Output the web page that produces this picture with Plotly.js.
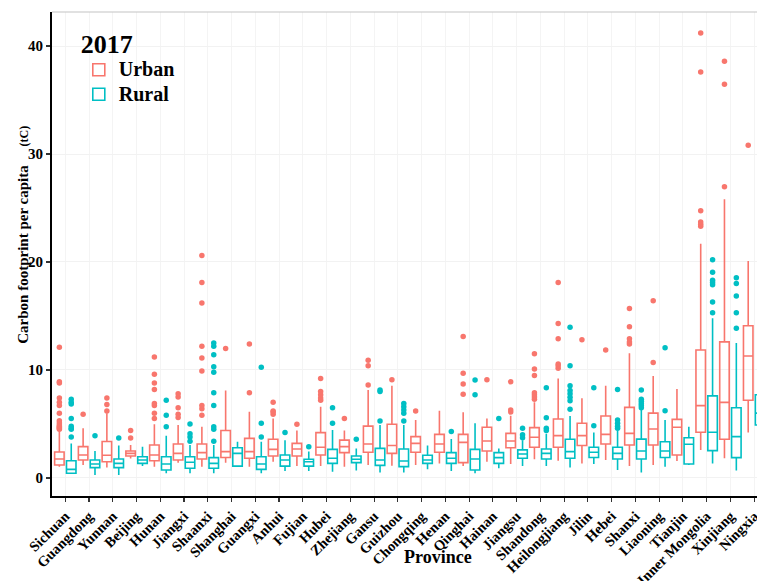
<!DOCTYPE html>
<html>
<head>
<meta charset="utf-8">
<script src="https://cdn.plot.ly/plotly-3.0.1.min.js"></script>
<style>
  html, body { margin: 0; padding: 0; background: #ffffff; }
  #chart { width: 757px; height: 581px; }
</style>
</head>
<body>
<div id="chart"></div>
<script>
// ---------- DATA ----------
var provinces = ['Sichuan','Guangdong','Yunnan','Beijing','Hunan','Jiangxi','Shaanxi','Shanghai','Guangxi','Anhui',
  'Fujian','Hubei','Zhejiang','Gansu','Guizhou','Chongqing','Henan','Qinghai','Hainan','Jiangsu',
  'Shandong','Heilongjiang','Jilin','Hebei','Shanxi','Liaoning','Tianjin','Inner Mongolia','Xinjiang','Ningxia'];

// Urban box statistics (tC per capita)
var urbanLower  = [1.05,1.2,0.96,1.8,1.05,1.4,1.05,1.42,1.05,1.5, 1.1,1.1,1.05,1.2,1.14,1.2,1.35,1.1,1.5,1.3, 1.73,1.6,1.35,1.67,1.1,1.2,1.57,2.6,1.82,4.2];
var urbanQ1     = [1.2,1.67,1.5,2.04,1.6,1.67,1.76,1.9,1.82,2.04, 2.04,2.13,2.35,2.38,2.28,2.38,2.38,1.42,2.5,2.8, 2.84,2.84,3.0,3.15,3.05,3.05,2.13,4.23,3.58,7.2];
var urbanMedian = [1.76,2.13,2.1,2.28,2.13,2.28,2.35,2.44,2.44,2.65, 2.68,2.84,2.9,3.15,3.0,3.2,3.15,3.3,3.43,3.43, 3.77,3.92,3.92,4.04,4.13,4.54,4.7,6.7,7.0,11.3];
var urbanQ3     = [2.4,2.9,3.37,2.5,3.05,3.15,3.15,4.4,3.67,3.58, 3.2,4.2,3.5,4.8,4.97,3.83,4.04,4.04,4.7,4.13, 4.66,5.46,5.06,5.74,6.54,6.0,5.43,11.85,12.6,14.1];
var urbanUpper  = [4.4,4.6,6.0,3.05,4.97,4.9,4.75,8.1,6.14,5.5, 4.4,6.6,4.4,8.15,8.55,5.37,6.23,6.08,5.5,5.77, 7.0,9.2,7.38,8.55,11.54,9.44,8.24,21.7,25.8,20.1];
var urbanOutliers = [
  [12.1,8.9,8.8,7.4,7.0,6.7,6.0,5.3,5.1,4.9,4.8,4.7,4.6,4.5],
  [5.9],
  [7.4,6.8,6.2],
  [4.4,3.7],
  [11.2,9.6,8.8,8.2,6.9,6.7,6.0,5.5],
  [7.8,7.5,6.5,5.9,5.6],
  [20.6,18.1,16.2,12.2,11.1,9.9,6.7,6.4,5.8],
  [12.0],
  [12.4,7.9],
  [7.0,6.2,6.1,5.9],
  [4.97],
  [9.2,8.0,7.7,7.4,7.2],
  [5.5],
  [10.9,10.4,8.6],
  [9.1],
  [6.2],
  [],
  [13.1,9.7,8.7,7.75],
  [9.1],
  [8.9,6.3,6.1],
  [11.5,10.1,9.5,7.9,7.7,7.5,7.3],
  [18.1,14.3,12.9,10.55,10.4,10.15],
  [12.8],
  [11.85],
  [15.7,14.0,12.9,12.6,12.4],
  [16.4,10.7],
  [],
  [41.2,37.6,24.75,23.7,23.5,23.3],
  [38.6,36.45,26.97],
  [30.8]
];

// Rural box statistics (tC per capita)
var ruralLower  = [0.4,0.28,0.28,1.1,0.43,0.43,0.43,1.1,0.43,0.65, 0.65,0.58,0.68,0.5,0.5,0.8,0.65,0.43,0.9,1.1, 1.1,0.96,1.3,0.74,0.5,1.05,1.2,1.35,0.68,3.0];
var ruralQ1     = [0.43,0.96,0.96,1.35,0.74,0.9,0.9,1.1,0.8,1.1, 1.1,1.35,1.42,1.17,1.05,1.35,1.35,0.74,1.35,1.82, 1.76,1.82,1.9,1.76,1.76,1.9,1.3,2.53,1.88,4.9];
var ruralMedian = [0.8,1.3,1.35,1.67,1.3,1.45,1.35,2.28,1.3,1.67, 1.5,1.82,1.73,1.67,1.57,1.67,1.82,1.76,1.88,2.22, 2.28,2.44,2.38,2.28,2.5,2.5,3.12,4.23,3.83,6.0];
var ruralQ3     = [1.6,1.67,1.76,1.97,1.97,1.97,1.88,2.8,1.97,2.13, 1.73,2.65,2.04,2.74,2.68,2.1,2.35,2.65,2.35,2.6, 2.68,3.58,2.84,2.84,3.6,3.36,3.73,7.6,6.5,7.7];
var ruralUpper  = [3.2,2.5,3.0,2.9,3.9,3.05,3.05,3.36,3.36,3.5, 2.44,4.44,2.74,4.9,4.9,3.0,3.6,5.06,2.74,3.5, 4.1,5.74,4.2,4.4,6.3,5.37,4.75,14.8,12.5,10.5];
var ruralOutliers = [
  [7.3,7.0,6.85,5.5,4.8,4.6,4.5,3.8],
  [3.9],
  [3.7],
  [],
  [7.2,5.8,4.75],
  [5.0,4.1,3.8,3.4],
  [12.5,12.2,11.4,10.3,9.8,7.9,6.7,4.75,4.5,3.4],
  [],
  [10.25,5.06,3.8],
  [4.2],
  [2.9],
  [6.5,5.06],
  [3.58],
  [8.15,8.0,5.28],
  [6.9,6.6,6.3,6.0,5.28],
  [],
  [4.3],
  [9.07,7.7],
  [5.5],
  [4.6,4.0,3.73],
  [8.36,5.58,4.6,4.4],
  [13.95,10.4,8.55,8.1,7.8,7.47,7.16,6.36],
  [8.36,4.84],
  [8.2,5.37,5.06,4.8,4.6],
  [8.15,7.3,7.1,6.9,6.7,6.5],
  [12.07,6.23],
  [],
  [20.2,19.05,18.3,18.1,17.9,16.3,15.3],
  [18.55,18.0,16.85,15.3,13.86],
  []
];

var yearLabel = '2017';
var seriesNames = ['Urban', 'Rural'];
var yTickVals = [0, 10, 20, 30, 40];

// ---------- STYLE ----------
var urbanColor = '#F8766D';
var ruralColor = '#00BFC4';
var serif = 'Liberation Serif, Times New Roman, serif';

function flattenOutliers(lists) {
  var xs = [], ys = [];
  lists.forEach(function (vals, i) {
    vals.forEach(function (v) { xs.push(provinces[i]); ys.push(v); });
  });
  return {x: xs, y: ys};
}

function statTrace(name, color, group, lo, q1, med, q3, hi) {
  return {
    type: 'box', name: '<span style="font-size:20px">' + name + '</span>', x: provinces,
    lowerfence: lo, q1: q1, median: med, q3: q3, upperfence: hi,
    offsetgroup: group, alignmentgroup: 'a',
    line: {color: color, width: 1.6},
    fillcolor: 'rgba(255,255,255,0)',
    whiskerwidth: 0,
    boxpoints: false,
    hoverinfo: 'skip'
  };
}

function outlierTrace(name, color, group, lists) {
  var f = flattenOutliers(lists);
  return {
    type: 'box', name: name + ' outliers', x: f.x, y: f.y,
    offsetgroup: group, alignmentgroup: 'a',
    boxpoints: 'all', jitter: 0, pointpos: 0,
    line: {color: 'rgba(0,0,0,0)', width: 0},
    fillcolor: 'rgba(0,0,0,0)',
    marker: {color: color, size: 5.5, line: {width: 0}},
    showlegend: false, hoverinfo: 'skip'
  };
}

var traces = [
  statTrace(seriesNames[0], urbanColor, 'U', urbanLower, urbanQ1, urbanMedian, urbanQ3, urbanUpper),
  statTrace(seriesNames[1], ruralColor, 'R', ruralLower, ruralQ1, ruralMedian, ruralQ3, ruralUpper),
  outlierTrace(seriesNames[0], urbanColor, 'U', urbanOutliers),
  outlierTrace(seriesNames[1], ruralColor, 'R', ruralOutliers)
];

var layout = {
  width: 757, height: 581,
  margin: {l: 52, r: 0, t: 12, b: 85, pad: 0},
  paper_bgcolor: '#ffffff', plot_bgcolor: '#ffffff',
  boxmode: 'group', boxgap: 0, boxgroupgap: 0.2,
  font: {family: serif, color: '#000000'},
  showlegend: true,
  legend: {
    x: 0.038, xanchor: 'left', y: 0.986, yanchor: 'top',
    bgcolor: 'rgba(0,0,0,0)',
    title: {text: yearLabel, side: 'top', font: {family: serif, size: 26, weight: 'bold', color: '#000'}},
    font: {family: serif, size: 16.5, weight: 'bold', color: '#000'},
    tracegroupgap: 0, itemwidth: 30
  },
  xaxis: {
    type: 'category', categoryorder: 'array', categoryarray: provinces,
    range: [-0.56, 29.12],
    showline: true, linecolor: '#000', linewidth: 2,
    ticks: 'outside', ticklen: 4, tickwidth: 1.2, tickcolor: '#333',
    tickangle: -45, tickfont: {family: serif, size: 14.5, weight: 'bold', color: '#000'},
    showgrid: true, gridcolor: '#f4f4f4', gridwidth: 1,
    zeroline: false, automargin: false, fixedrange: true
  },
  yaxis: {
    range: [-1.67, 43.15],
    tickvals: yTickVals,
    showline: true, linecolor: '#000', linewidth: 2,
    ticks: 'outside', ticklen: 4, tickwidth: 1.2, tickcolor: '#333',
    tickfont: {family: serif, size: 15, weight: 'bold', color: '#000'},
    showgrid: true, gridcolor: '#f2f2f2', gridwidth: 1,
    zeroline: false, automargin: false, fixedrange: true
  },
  shapes: [
    {type: 'line', xref: 'paper', yref: 'paper', x0: 0, x1: 1, y0: 1, y1: 1,
     line: {color: '#c4c4c4', width: 1.2}}
  ],
  annotations: [
    {text: 'Carbon footprint per capita&nbsp;&nbsp;&nbsp;&nbsp;&nbsp;<span style="font-size:12px">(tC)</span>',
     xref: 'paper', yref: 'paper', x: -0.041, y: 0.54, xanchor: 'center', yanchor: 'middle',
     textangle: -90, showarrow: false,
     font: {family: serif, size: 15, weight: 'bold', color: '#000'}},
    {text: 'Province', xref: 'paper', yref: 'paper', x: 0.5475, y: -0.126,
     xanchor: 'center', yanchor: 'middle', showarrow: false,
     font: {family: serif, size: 18, weight: 'bold', color: '#000'}}
  ]
};

Plotly.newPlot('chart', traces, layout, {displayModeBar: false, staticPlot: true});
</script>
</body>
</html>
